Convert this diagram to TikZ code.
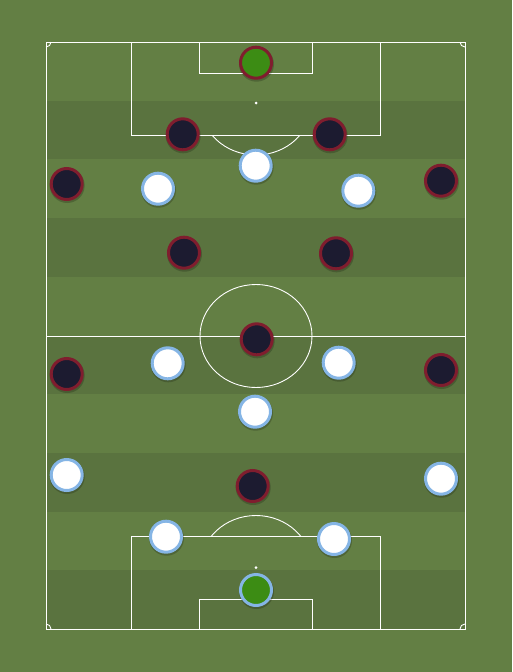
\documentclass[tikz,border=0pt]{standalone}
\begin{document}
\begin{tikzpicture}[x=1pt,y=-1pt]
\definecolor{grassL}{RGB}{99,127,68}
\definecolor{grassD}{RGB}{90,115,63}
\definecolor{navy}{RGB}{28,27,48}
\definecolor{maroon}{RGB}{127,29,46}
\definecolor{skyb}{RGB}{133,181,229}
\definecolor{gkgreen}{RGB}{60,140,20}
\tikzset{
  pline/.style={draw=white, line width=0.9pt},
  shadowc/.style={fill=black, opacity=0.2},
  darkp/.style={circle, minimum size=31pt, inner sep=0pt, fill=navy, draw=maroon, line width=3pt},
  whitep/.style={circle, minimum size=31pt, inner sep=0pt, fill=white, draw=skyb, line width=3pt},
  gkdark/.style={darkp, fill=gkgreen},
  gkwhite/.style={whitep, fill=gkgreen},
}
% background
\fill[grassL] (0,0) rectangle (512,672);
\useasboundingbox (0,0) rectangle (512,672);
% stripes
\foreach \i in {1,3,5,7,9} {
  \fill[grassD] (46,{42+\i*58.7}) rectangle (465,{42+(\i+1)*58.7});
}
% outer lines
\draw[pline] (46,42) rectangle (465,629);
\draw[pline] (46,336) -- (465,336);
% center circle
\draw[pline] (256,336) ellipse [x radius=56, y radius=51.5];
% top box
\draw[pline] (131,42) -- (131,135) -- (380,135) -- (380,42);
\draw[pline] (199,42) -- (199,73) -- (312,73) -- (312,42);
\fill[white] (256,103) circle (1.5);
\begin{scope}
  \clip (131,135.5) rectangle (380,200);
  \draw[pline] (256,103) ellipse [x radius=56, y radius=52];
\end{scope}
% bottom box
\draw[pline] (131,629) -- (131,536) -- (380,536) -- (380,629);
\draw[pline] (199,629) -- (199,599) -- (312,599) -- (312,629);
\fill[white] (256,567.5) circle (1.5);
\begin{scope}
  \clip (131,535.5) rectangle (380,480);
  \draw[pline] (256,567.5) ellipse [x radius=56, y radius=52];
\end{scope}
% corner arcs
\draw[pline] (51,42) arc[start angle=0, end angle=90, radius=5];
\draw[pline] (460,42) arc[start angle=180, end angle=90, radius=5];
\draw[pline] (51,629) arc[start angle=0, end angle=-90, radius=5];
\draw[pline] (460,629) arc[start angle=180, end angle=270, radius=5];
% players: shadows
\foreach \x/\y in {256/62.7,182.7/134.3,329.7/134.3,66.7/184,441/180.7,184/252.7,336/253.3,256.7/339.3,66.7/374,441/370,252.7/486,
  255.7/165.7,158/188.7,358.3/190.7,167.7/363.3,338.7/362.7,255/411.7,66.7/475,441/478.7,166/536.7,334/539,256/590} {
  \fill[shadowc] (\x+0.5,\y+1.5) circle (17.5);
}
% dark team
\node[gkdark] (d1) at (256,62.7) {};
\node[darkp] (d2) at (182.7,134.3) {};
\node[darkp] (d3) at (329.7,134.3) {};
\node[darkp] (d4) at (66.7,184) {};
\node[darkp] (d5) at (441,180.7) {};
\node[darkp] (d6) at (184,252.7) {};
\node[darkp] (d7) at (336,253.3) {};
\node[darkp] (d8) at (256.7,339.3) {};
\node[darkp] (d9) at (66.7,374) {};
\node[darkp] (d10) at (441,370) {};
\node[darkp] (d11) at (252.7,486) {};
% white team
\node[whitep] (w1) at (255.7,165.7) {};
\node[whitep] (w2) at (158,188.7) {};
\node[whitep] (w3) at (358.3,190.7) {};
\node[whitep] (w4) at (167.7,363.3) {};
\node[whitep] (w5) at (338.7,362.7) {};
\node[whitep] (w6) at (255,411.7) {};
\node[whitep] (w7) at (66.7,475) {};
\node[whitep] (w8) at (441,478.7) {};
\node[whitep] (w9) at (166,536.7) {};
\node[whitep] (w10) at (334,539) {};
\node[gkwhite] (w11) at (256,590) {};
\end{tikzpicture}
\end{document}
